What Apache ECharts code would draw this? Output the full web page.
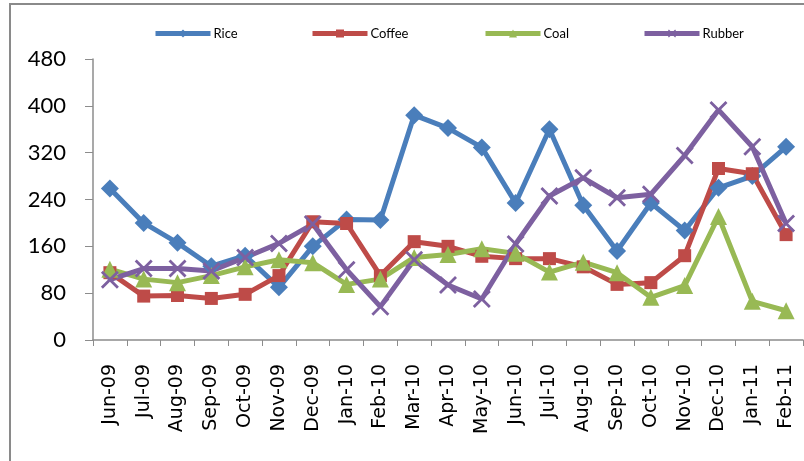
<!DOCTYPE html>
<html>
<head>
<meta charset="utf-8">
<script src="https://cdn.jsdelivr.net/npm/echarts@6/dist/echarts.min.js"></script>
<style>
  html, body { margin: 0; padding: 0; background: #fff; }
  #chart { width: 804px; height: 461px; }
</style>
</head>
<body>
<div id="chart"></div>
<script>
// Monthly price index by commodity, Jun-09 to Feb-11
const months = ['Jun-09','Jul-09','Aug-09','Sep-09','Oct-09','Nov-09','Dec-09','Jan-10','Feb-10','Mar-10','Apr-10',
  'May-10','Jun-10','Jul-10','Aug-10','Sep-10','Oct-10','Nov-10','Dec-10','Jan-11','Feb-11'];
const rice   = [259, 200, 166, 126, 144, 90, 160, 206, 205, 384, 362, 329, 234, 360, 230, 152, 234, 187, 260, 280, 330];
const coffee = [115, 75, 76, 71, 78, 110, 202, 199, 110, 168, 160, 143, 139, 139, 125, 95, 98, 144, 293, 284, 180];
const coal   = [121, 104, 98, 110, 125, 137, 132, 95, 104, 141, 146, 156, 148, 116, 133, 115, 73, 93, 211, 66, 50];
const rubber = [103, 122, 122, 118, 141, 165, 198, 120, 57, 137, 94, 70, 164, 246, 277, 243, 249, 315, 393, 330, 199];
const yTicks = [0, 80, 160, 240, 320, 400, 480];

const colors = { Rice: '#4A7EBB', Coffee: '#BE4B48', Coal: '#98B954', Rubber: '#7D60A0' };
const crossPath = 'path://M0,1.1L1.1,0L10,8.9L8.9,10Z M8.9,0L10,1.1L1.1,10L0,8.9Z';

function makeSeries(name, data, symbol, size) {
  return {
    name, type: 'line', data, symbol, symbolSize: size,
    showSymbol: true, smooth: false,
    lineStyle: { color: colors[name], width: 5 },
    itemStyle: { color: colors[name] },
    emphasis: { disabled: true }
  };
}

function legendAt(name, left) {
  return {
    data: [name], left, top: 27, padding: 0, itemWidth: 55, itemHeight: 10, itemGap: 4,
    lineStyle: { width: 5 },
    textStyle: { fontFamily: 'Lato', fontSize: 13, color: '#000', padding: [0, 0, 0, -2] },
    selectedMode: false
  };
}

const chart = echarts.init(document.getElementById('chart'), null, { renderer: 'canvas' });
chart.setOption({
  animation: false,
  backgroundColor: '#fff',
  graphic: [{
    type: 'rect', shape: { x: 10, y: 4, width: 900, height: 600 },
    style: { fill: 'none', stroke: '#8a8a8a', lineWidth: 2 }, silent: true
  }],
  legend: [
    legendAt('Rice', 153),
    legendAt('Coffee', 310),
    legendAt('Coal', 483),
    legendAt('Rubber', 642)
  ],
  grid: { left: 93, right: 1, top: 59, bottom: 121, containLabel: false },
  xAxis: {
    type: 'category', data: months, boundaryGap: true,
    axisLine: { lineStyle: { color: '#8c8c8c', width: 1.5 } },
    axisTick: { show: true, length: 6, alignWithLabel: false, lineStyle: { color: '#8c8c8c' } },
    axisLabel: { rotate: 90, interval: 0, margin: 24, fontFamily: 'DejaVu Sans', fontSize: 19, color: '#000' },
    splitLine: { show: false }
  },
  yAxis: {
    type: 'value', min: yTicks[0], max: yTicks[yTicks.length - 1], interval: 80,
    axisLine: { show: true, lineStyle: { color: '#8c8c8c', width: 1.5 } },
    axisTick: { show: true, length: 8, lineStyle: { color: '#8c8c8c' } },
    axisLabel: { margin: 27, fontFamily: 'Lato', fontSize: 22, color: '#000' },
    splitLine: { show: false }
  },
  series: [
    makeSeries('Rice', rice, 'diamond', 18),
    makeSeries('Coffee', coffee, 'rect', 13),
    makeSeries('Coal', coal, 'triangle', 17),
    makeSeries('Rubber', rubber, crossPath, 18)
  ]
});
</script>
</body>
</html>
